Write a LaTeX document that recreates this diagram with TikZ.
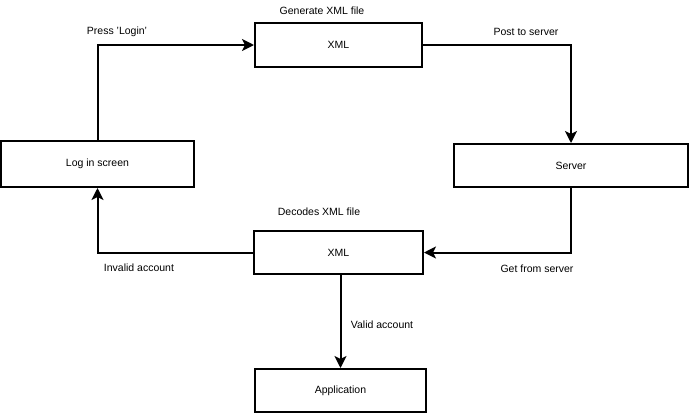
\documentclass[tikz,border=0pt]{standalone}
\usepackage{fontspec}
\setmainfont{Liberation Sans}
\usepackage{tikz}
\usetikzlibrary{arrows.meta,positioning}

\tikzset{
  stepbox/.style={draw,line width=2pt,inner sep=0pt,minimum height=43pt},
  flow/.style={line width=2pt,-{Stealth[length=12pt,width=12pt,inset=3pt]}},
  lbl/.style={inner sep=0pt}
}

\begin{document}
\begin{tikzpicture}[x=1pt,y=-1pt,font=\fontsize{10.5}{12}\selectfont]
			\useasboundingbox (0,0) rectangle (689,413);
			\node (login) at (97.5,164) [stepbox,minimum width=193pt,minimum height=46pt] {Log in screen};
			\node (genxml) at (338.5,45) [stepbox,minimum width=167pt,minimum height=44pt] {XML};
			\node (server) at (571,165.5) [stepbox,minimum width=234pt] {Server};
			\node (decxml) at (338.5,252.5) [stepbox,minimum width=169pt] {XML};
			\node (app) at (340.5,390.5) [stepbox,minimum width=171pt] {Application};
			\draw[flow] (login.north) |- (genxml.west);
			\draw[flow] (genxml.east) -| (server.north);
			\draw[flow] (server.south) |- (decxml.east);
			\draw[flow] (decxml.west) -| (login.south);
			\draw[flow] (app.north |- decxml.south) -- (app.north);
			\node (press) at (117,32) [lbl] {Press 'Login'};
			\node (gen) at (322,11) [lbl] {Generate XML file};
			\node (post) at (526,32) [lbl] {Post to server};
			\node (dec) at (319,212) [lbl] {Decodes XML file};
			\node (invalid) at (139,268) [lbl] {Invalid account};
			\node (get) at (537,269) [lbl] {Get from server};
			\node (valid) at (382,325) [lbl] {Valid account};
		\end{tikzpicture}
\end{document}
